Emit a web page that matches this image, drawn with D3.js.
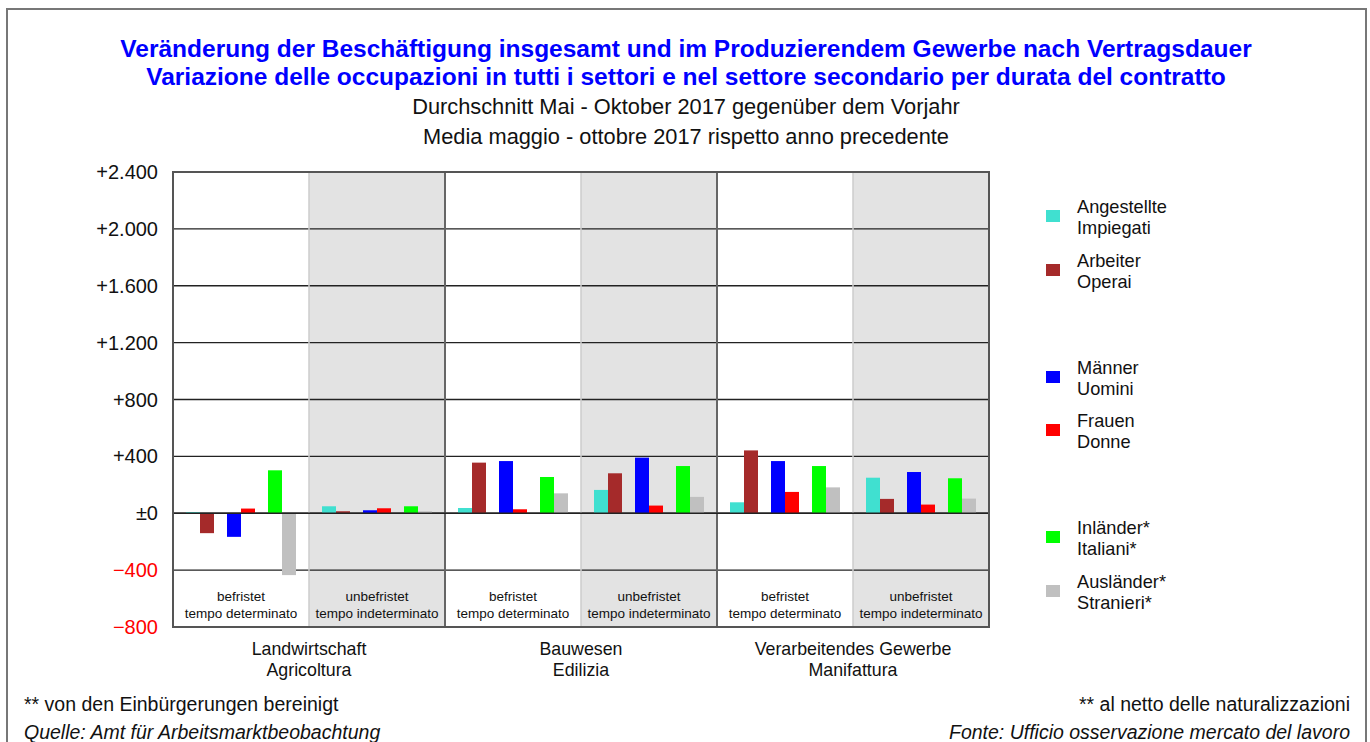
<!DOCTYPE html>
<html lang="de">
<head>
  <meta charset="UTF-8">
  <title>Beschäftigung nach Vertragsdauer</title>
  <style type="text/css" media="all">
    body { margin: 0; background: #fff; }
    svg { display: block; font-family: "Liberation Sans", Arial, sans-serif; }
  </style>
</head>
<body>
  <div id="graph"></div>
  <script src="https://cdn.jsdelivr.net/npm/d3@7/dist/d3.min.js" charset="utf-8"></script>
  <script>
    // sectors and contract types (one panel per sector x contract)
    var sectors = [["Landwirtschaft", "Agricoltura"], ["Bauwesen", "Edilizia"], ["Verarbeitendes Gewerbe", "Manifattura"]];
    var contracts = [["befristet", "tempo determinato"], ["unbefristet", "tempo indeterminato"]];

    var seriesNames = [
      ["Angestellte", "Impiegati"], ["Arbeiter", "Operai"],
      ["Männer", "Uomini"], ["Frauen", "Donne"],
      ["Inländer*", "Italiani*"], ["Ausländer*", "Stranieri*"]
    ];
    var seriesColors = ["#40e0d0", "#a52a2a", "#0000ff", "#ff0000", "#00ff00", "#c0c0c0"];

    // values per panel: Landw. bef, Landw. unbef, Bau bef, Bau unbef, Verarb. bef, Verarb. unbef
    var angestellte = [8, 49, 37, 164, 77, 250];
    var arbeiter    = [-140, 14, 356, 281, 442, 101];
    var maenner     = [-166, 21, 367, 391, 367, 290];
    var frauen      = [33, 35, 28, 54, 150, 61];
    var inlaender   = [302, 49, 255, 332, 332, 246];
    var auslaender  = [-435, 14, 140, 115, 182, 103];

    var yTicks = [-800, -400, 0, 400, 800, 1200, 1600, 2000, 2400];
    var yTickLabels = ["\u2212800", "\u2212400", "\u00b10", "+400", "+800", "+1.200", "+1.600", "+2.000", "+2.400"];

    var allSeries = [angestellte, arbeiter, maenner, frauen, inlaender, auslaender];

    var width = 1370, height = 742;
    var svg = d3.select("#graph").append("svg")
        .attr("width", width)
        .attr("height", height);

    // outer frame
    svg.append("rect")
        .attr("x", 7).attr("y", 9)
        .attr("width", 1359).attr("height", 760)
        .attr("fill", "none")
        .attr("stroke", "#777")
        .attr("stroke-width", 2);

    // titles
    var titles = [
      {text: "Veränderung der Beschäftigung insgesamt und im Produzierendem Gewerbe nach Vertragsdauer", y: 57, bold: true},
      {text: "Variazione delle occupazioni in tutti i settori e nel settore secondario per durata del contratto", y: 85, bold: true},
      {text: "Durchschnitt Mai - Oktober 2017 gegenüber dem Vorjahr", y: 114, bold: false},
      {text: "Media maggio - ottobre 2017 rispetto anno precedente", y: 144, bold: false}
    ];
    svg.selectAll("text.title").data(titles).enter().append("text")
        .attr("class", "title")
        .attr("x", 686)
        .attr("y", function(d) { return d.y; })
        .attr("text-anchor", "middle")
        .attr("font-size", function(d) { return d.bold ? 24.5 : 21.8; })
        .attr("font-weight", function(d) { return d.bold ? "bold" : "normal"; })
        .attr("fill", function(d) { return d.bold ? "#0000ff" : "#111"; })
        .text(function(d) { return d.text; });

    var plot = {left: 173, right: 989, top: 172, bottom: 627};

    var y = d3.scaleLinear().domain([-800, 2400]).range([plot.bottom, plot.top]);

    var panels = d3.range(6);
    var x = d3.scaleBand().domain(panels).range([plot.left, plot.right]);
    var xGroup = d3.scaleBand().domain([0, 1, 2]).range([0, x.bandwidth()]).padding(13 / 41);
    var xBar = d3.scaleBand().domain([0, 1]).range([0, xGroup.bandwidth()]);

    // shaded panels (unbefristet)
    svg.selectAll("rect.shade").data(panels.filter(function(p) { return p % 2 === 1; }))
      .enter().append("rect")
        .attr("class", "shade")
        .attr("x", function(p) { return x(p); })
        .attr("y", plot.top)
        .attr("width", x.bandwidth())
        .attr("height", plot.bottom - plot.top)
        .attr("fill", "#e3e3e3");

    // horizontal grid lines
    svg.selectAll("line.grid").data(yTicks.filter(function(t) { return t > -800 && t < 2400; }))
      .enter().append("line")
        .attr("class", "grid")
        .attr("x1", plot.left).attr("x2", plot.right)
        .attr("y1", function(t) { return y(t); })
        .attr("y2", function(t) { return y(t); })
        .attr("stroke", "#222")
        .attr("stroke-width", 1.3);

    // panel separators
    svg.selectAll("line.sep").data(d3.range(1, 6))
      .enter().append("line")
        .attr("class", "sep")
        .attr("x1", function(p) { return x(p); })
        .attr("x2", function(p) { return x(p); })
        .attr("y1", plot.top).attr("y2", plot.bottom)
        .attr("stroke", function(p) { return p % 2 === 0 ? "#666" : "#ccc"; })
        .attr("stroke-width", function(p) { return p % 2 === 0 ? 2 : 1.5; });

    // bars
    var barData = [];
    panels.forEach(function(p) {
      allSeries.forEach(function(s, i) {
        barData.push({panel: p, series: i, value: s[p]});
      });
    });

    svg.selectAll("rect.bar").data(barData).enter().append("rect")
        .attr("class", "bar")
        .attr("x", function(d) {
          return x(d.panel) + xGroup(Math.floor(d.series / 2)) + xBar(d.series % 2);
        })
        .attr("y", function(d) { return y(Math.max(0, d.value)); })
        .attr("width", xBar.bandwidth())
        .attr("height", function(d) { return Math.abs(y(d.value) - y(0)); })
        .attr("fill", function(d) { return seriesColors[d.series]; });

    // zero line on top of bars
    svg.append("line")
        .attr("x1", plot.left).attr("x2", plot.right)
        .attr("y1", y(0)).attr("y2", y(0))
        .attr("stroke", "#222")
        .attr("stroke-width", 1.3);

    // plot border
    svg.append("rect")
        .attr("x", plot.left).attr("y", plot.top)
        .attr("width", plot.right - plot.left)
        .attr("height", plot.bottom - plot.top)
        .attr("fill", "none")
        .attr("stroke", "#555")
        .attr("stroke-width", 2);

    // y axis labels
    svg.selectAll("text.ytick").data(yTicks).enter().append("text")
        .attr("class", "ytick")
        .attr("x", 158)
        .attr("y", function(t) { return y(t); })
        .attr("dy", "0.35em")
        .attr("text-anchor", "end")
        .attr("font-size", 20)
        .attr("fill", function(t) { return t < 0 ? "#ff0000" : "#111"; })
        .text(function(t, i) { return yTickLabels[i]; });

    // contract labels inside panels
    panels.forEach(function(p) {
      var lbl = contracts[p % 2];
      var t = svg.append("text")
          .attr("x", x(p) + x.bandwidth() / 2)
          .attr("text-anchor", "middle")
          .attr("font-size", 13.5)
          .attr("fill", "#111");
      t.append("tspan").attr("x", x(p) + x.bandwidth() / 2).attr("y", 601).text(lbl[0]);
      t.append("tspan").attr("x", x(p) + x.bandwidth() / 2).attr("y", 618).text(lbl[1]);
    });

    // sector labels below
    sectors.forEach(function(s, i) {
      var cx = x(i * 2 + 1);
      var t = svg.append("text")
          .attr("text-anchor", "middle")
          .attr("font-size", 17.8)
          .attr("fill", "#111");
      t.append("tspan").attr("x", cx).attr("y", 655).text(s[0]);
      t.append("tspan").attr("x", cx).attr("y", 676).text(s[1]);
    });

    // legend
    var legendY = [216, 270, 377, 430, 537, 591];
    var legend = svg.selectAll("g.legend").data(seriesNames).enter().append("g")
        .attr("class", "legend")
        .attr("transform", function(d, i) { return "translate(1046," + legendY[i] + ")"; });
    legend.append("rect")
        .attr("x", 0).attr("y", -6)
        .attr("width", 14).attr("height", 12)
        .attr("fill", function(d, i) { return seriesColors[i]; });
    legend.append("text")
        .attr("x", 31).attr("y", -3)
        .attr("font-size", 18.2)
        .attr("fill", "#111")
        .text(function(d) { return d[0]; });
    legend.append("text")
        .attr("x", 31).attr("y", 18)
        .attr("font-size", 18.2)
        .attr("fill", "#111")
        .text(function(d) { return d[1]; });

    // footnotes
    var notes = [
      {text: "** von den Einbürgerungen bereinigt", x: 24, y: 711, anchor: "start", italic: false},
      {text: "** al netto delle naturalizzazioni", x: 1350, y: 711, anchor: "end", italic: false},
      {text: "Quelle: Amt für Arbeitsmarktbeobachtung", x: 24, y: 739, anchor: "start", italic: true},
      {text: "Fonte: Ufficio osservazione mercato del lavoro", x: 1350, y: 739, anchor: "end", italic: true}
    ];
    svg.selectAll("text.note").data(notes).enter().append("text")
        .attr("class", "note")
        .attr("x", function(d) { return d.x; })
        .attr("y", function(d) { return d.y; })
        .attr("text-anchor", function(d) { return d.anchor; })
        .attr("font-size", 19.5)
        .attr("font-style", function(d) { return d.italic ? "italic" : "normal"; })
        .attr("fill", "#111")
        .text(function(d) { return d.text; });
  </script>
</body>
</html>
